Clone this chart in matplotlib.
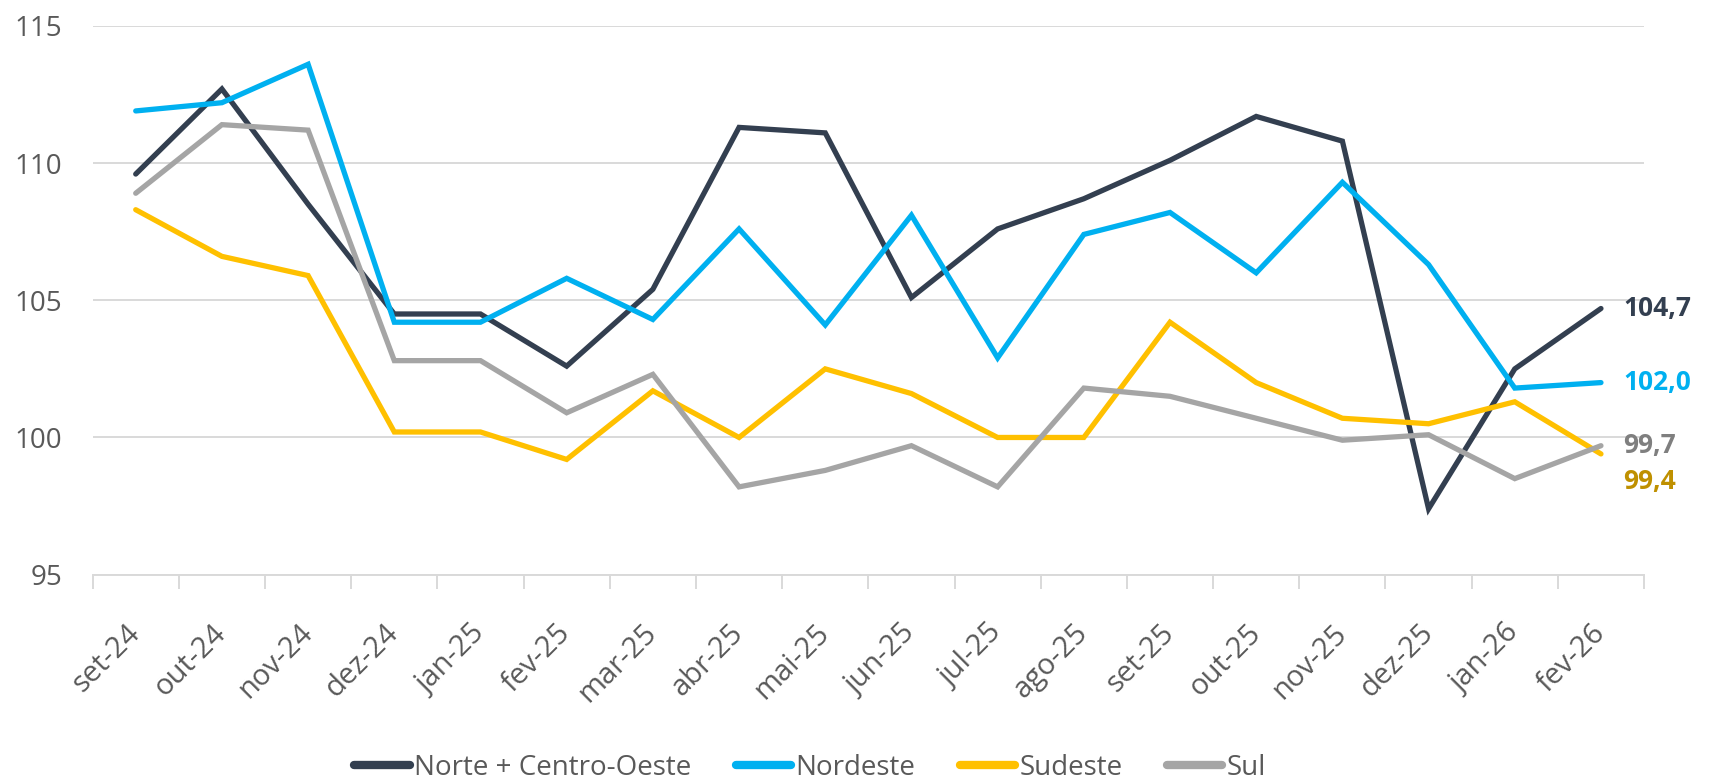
import matplotlib.pyplot as plt
from matplotlib.ticker import FixedLocator

MESES = ["set-24", "out-24", "nov-24", "dez-24", "jan-25", "fev-25",
         "mar-25", "abr-25", "mai-25", "jun-25", "jul-25", "ago-25",
         "set-25", "out-25", "nov-25", "dez-25", "jan-26", "fev-26"]

NORTE_CO = [109.6, 112.7, 108.5, 104.5, 104.5, 102.6, 105.4, 111.3, 111.1,
            105.1, 107.6, 108.7, 110.1, 111.7, 110.8, 97.4, 102.5, 104.7]
NORDESTE = [111.9, 112.2, 113.6, 104.2, 104.2, 105.8, 104.3, 107.6, 104.1,
            108.1, 102.9, 107.4, 108.2, 106.0, 109.3, 106.3, 101.8, 102.0]
SUDESTE = [108.3, 106.6, 105.9, 100.2, 100.2, 99.2, 101.7, 100.0, 102.5,
           101.6, 100.0, 100.0, 104.2, 102.0, 100.7, 100.5, 101.3, 99.4]
SUL = [108.9, 111.4, 111.2, 102.8, 102.8, 100.9, 102.3, 98.2, 98.8,
       99.7, 98.2, 101.8, 101.5, 100.7, 99.9, 100.1, 98.5, 99.7]

SERIES = [
    ("Norte + Centro-Oeste", NORTE_CO, "#333f50", "#333f50", 0),
    ("Nordeste", NORDESTE, "#00b0f0", "#00b0f0", 0),
    ("Sudeste", SUDESTE, "#ffc000", "#bf9000", -20),
    ("Sul", SUL, "#a5a5a5", "#7f7f7f", 0),
]

TXT = "#595959"
GRID = "#d9d9d9"

plt.rcParams["font.family"] = ["Open Sans", "DejaVu Sans"]

fig = plt.figure(figsize=(17.09, 7.84), dpi=100)
ax = fig.add_axes([0.0542, 0.267, 0.9078, 0.7])

x = list(range(len(MESES)))
for name, vals, color, lab_color, dy in SERIES:
    ax.plot(x, vals, color=color, lw=3.8, label=name, solid_capstyle="round",
            solid_joinstyle="miter")
    ax.annotate(f"{vals[-1]:.1f}".replace(".", ","), (x[-1], vals[-1]),
                xytext=(16, dy), textcoords="offset points",
                ha="left", va="center", fontsize=19, fontweight="bold",
                color=lab_color)

ax.set_xlim(-0.5, len(MESES) - 0.5)
ax.set_ylim(95, 115)
ax.set_yticks([95, 100, 105, 110, 115])
ax.grid(axis="y", color=GRID, lw=1.4)
ax.set_axisbelow(True)

for s in ["top", "right", "left"]:
    ax.spines[s].set_visible(False)
ax.spines["bottom"].set_color(GRID)
ax.spines["bottom"].set_linewidth(1.4)

ax.set_xticks(x)
ax.set_xticklabels(MESES, rotation=45, ha="right", va="center",
                   rotation_mode="anchor")
ax.xaxis.set_minor_locator(FixedLocator([i - 0.5 for i in range(len(MESES) + 1)]))
ax.tick_params(axis="x", which="major", length=0, pad=39, labelsize=21,
               labelcolor=TXT)
ax.tick_params(axis="x", which="minor", length=10, width=1.4, color=GRID)
ax.tick_params(axis="y", length=0, pad=22, labelsize=20, labelcolor=TXT)

leg = fig.legend(loc="center", bbox_to_anchor=(0.474, 0.021), ncol=4,
                 frameon=False, fontsize=20, handlelength=2.0,
                 handletextpad=0.15, columnspacing=1.6, borderpad=0.0)
for t in leg.get_texts():
    t.set_color(TXT)
for h in leg.get_lines():
    h.set_linewidth(6)

fig.savefig("out.png", dpi=100)
